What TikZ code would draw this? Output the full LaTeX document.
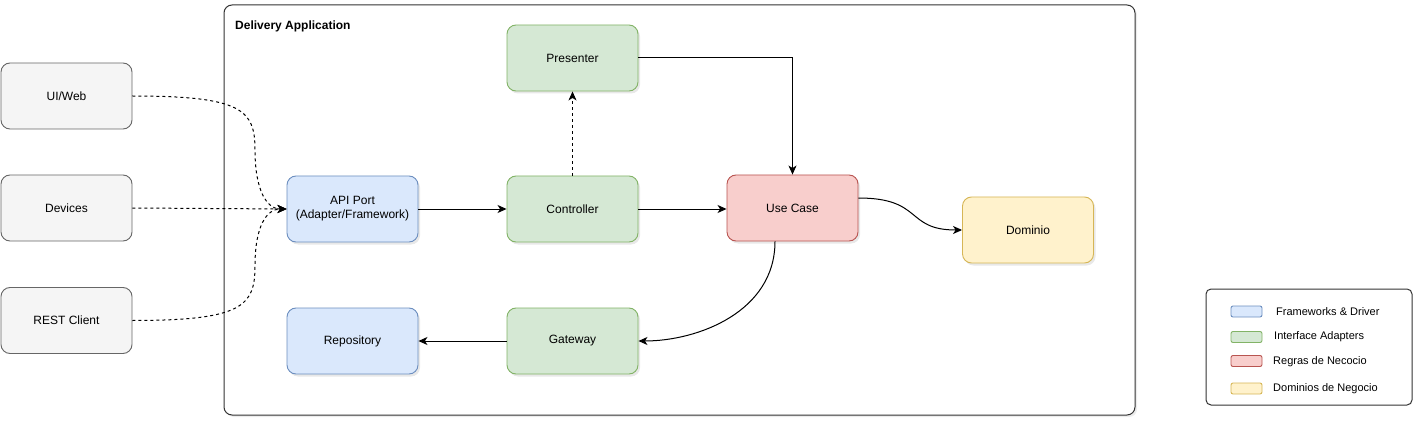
\documentclass[tikz,border=0pt]{standalone}
\usepackage{fontspec}
\setmainfont{Liberation Sans}
\usetikzlibrary{arrows.meta,shadows}
\definecolor{grayfill}{HTML}{F5F5F5}
\definecolor{graydraw}{HTML}{666666}
\definecolor{bluefill}{HTML}{DAE8FC}
\definecolor{bluedraw}{HTML}{6C8EBF}
\definecolor{greenfill}{HTML}{D5E8D4}
\definecolor{greendraw}{HTML}{82B366}
\definecolor{redfill}{HTML}{F8CECC}
\definecolor{reddraw}{HTML}{B85450}
\definecolor{yellowfill}{HTML}{FFF2CC}
\definecolor{yellowdraw}{HTML}{D6B656}
\definecolor{framedraw}{HTML}{333333}
\begin{document}
\begin{tikzpicture}[x=1pt,y=-1pt,
  font=\fontsize{12}{14}\selectfont,
  box/.style={draw, rounded corners=9pt, minimum width=131pt, minimum height=66pt,
    align=center, line width=0.9pt, inner sep=0pt},
  shad/.style={drop shadow={opacity=0.18, shadow xshift=2pt, shadow yshift=-2.5pt}},
  ext/.style={box, fill=grayfill, draw=graydraw},
  fw/.style={box, shad, fill=bluefill, draw=bluedraw},
  ia/.style={box, shad, fill=greenfill, draw=greendraw},
  rn/.style={box, shad, fill=redfill, draw=reddraw},
  dn/.style={box, shad, fill=yellowfill, draw=yellowdraw},
  swatch/.style={draw, rounded corners=2pt, minimum width=31pt, minimum height=11pt, inner sep=0pt, line width=0.9pt},
  legtext/.style={anchor=west, font=\fontsize{11}{13}\selectfont, inner sep=0pt},
  arr/.style={line width=1pt, -{Stealth[length=9pt,width=8pt,inset=2.5pt]}},
  dsh/.style={arr, dash pattern=on 3pt off 3pt}
]
\useasboundingbox (0,0) rectangle (1417,425);

% container
\node[draw=framedraw, line width=1pt, rounded corners=8pt, minimum width=911pt, minimum height=410pt,
  inner sep=0pt, fill=white, drop shadow={opacity=0.15, shadow xshift=2pt, shadow yshift=-2pt}] (app) at (679.5,210) {};
\node[anchor=west, font=\fontsize{12}{14}\selectfont\bfseries, inner sep=0pt] (apptitle) at (235,26) {Delivery Application};

% external
\node[ext] (ui) at (66.5,96) {UI/Web};
\node[ext] (dev) at (66.5,208) {Devices};
\node[ext] (rest) at (66.5,320.5) {REST Client};

% inner boxes
\node[fw] (api) at (352.5,209) {API Port\\(Adapter/Framework)};
\node[fw] (repo) at (352.5,341) {Repository};
\node[ia] (pres) at (572.5,58) {Presenter};
\node[ia] (ctrl) at (572.5,209) {Controller};
\node[ia] (gw) at (572.5,341) {Gateway};
\node[rn] (uc) at (792.5,208) {Use Case};
\node[dn] (dom) at (1028,230) {Dominio};

% connectors
\draw[dsh] (ui.east) .. controls +(110,0) and +(0,-40) .. (255,150)
  .. controls +(0,40) and +(-20,0) .. (api.west);
\draw[dsh] (dev.east) -- (api.west);
\draw[dsh] (rest.east) .. controls +(110,0) and +(0,40) .. (255,266)
  .. controls +(0,-40) and +(-20,0) .. (api.west);
\draw[arr] (api.east) -- (ctrl.west);
\draw[dsh] (ctrl.north) -- (pres.south);
\draw[arr] (ctrl.east) -- (ctrl.east -| uc.west);
\draw[arr] (pres.east) -| (uc.north);
\draw[arr] ([yshift=10pt]uc.east) .. controls +(65,0) and +(-57,0) .. (dom.west);
\draw[arr] ([xshift=-17.5pt]uc.south) .. controls +(0,70) and +(60,0) .. (gw.east);
\draw[arr] (gw.west) -- (repo.east);

% legend
\node[draw=framedraw, line width=1pt, rounded corners=5pt, minimum width=206pt, minimum height=116pt, inner sep=0pt] (leg) at (1309,347) {};
\node[swatch, fill=bluefill, draw=bluedraw] (s1) at (1246.5,311.5) {};
\node[swatch, fill=greenfill, draw=greendraw] (s2) at (1246.5,337) {};
\node[swatch, fill=redfill, draw=reddraw] (s3) at (1246.5,361) {};
\node[swatch, fill=yellowfill, draw=yellowdraw] (s4) at (1246.5,388.5) {};
\node[legtext] (t1) at (1276,311.5) {Frameworks \& Driver};
\node[legtext] (t2) at (1274,337) {Interface Adapters};
\node[legtext] (t3) at (1273,362) {Regras de Necocio};
\node[legtext] (t4) at (1273,388.5) {Dominios de Negocio};
\end{tikzpicture}
\end{document}
